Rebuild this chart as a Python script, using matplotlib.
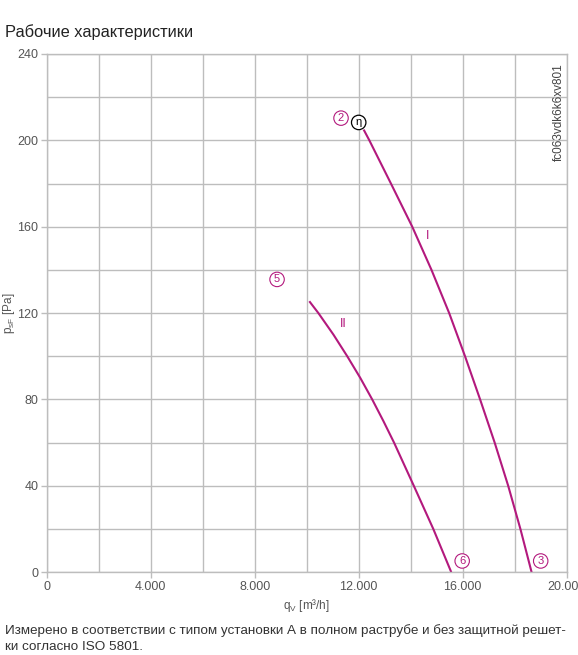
import numpy as np
import matplotlib.pyplot as plt
from matplotlib.ticker import FuncFormatter, MultipleLocator

plt.rcParams['font.family'] = ['Liberation Sans', 'DejaVu Sans']

# Curve I (operating line at full speed)
q_I = [12190, 12410, 13240, 14060, 14800, 15480, 16090, 16670, 17230, 17750, 18220, 18650]
p_I = [205, 200, 180, 160, 140, 120, 100, 80, 60, 40, 20, 0]

# Curve II (reduced speed)
q_II = [10100, 10450, 11030, 11560, 12060, 12520, 12950, 13360, 14120, 14870, 15560]
p_II = [125.5, 120, 110, 100, 90, 80, 70, 60, 40, 20, 0]

# Point markers: label, q, p
markers = [('2', 11320, 210.3), ('5', 8860, 135.6), ('6', 15980, 5.2), ('3', 19000, 5.2)]
curve_labels = [('I', 14630, 155.6), ('II', 11400, 115.0)]
eta_point = (12000, 208.3)

x_ticks = [0, 4000, 8000, 12000, 16000, 20000]
y_ticks = [0, 40, 80, 120, 160, 200, 240]

magenta = '#b3197d'
grid_c = '#bdbdbd'
text_c = '#555555'

fig = plt.figure(figsize=(5.78, 6.55), dpi=100)
ax = fig.add_axes([46.7 / 578, 82.8 / 655, 520 / 578, 518.2 / 655])

ax.plot(q_I, p_I, color=magenta, lw=1.5, solid_capstyle='butt', solid_joinstyle='round')
ax.plot(q_II, p_II, color=magenta, lw=1.5, solid_capstyle='butt', solid_joinstyle='round')

ax.set_xlim(0, 20000)
ax.set_ylim(0, 240)

ax.xaxis.set_minor_locator(MultipleLocator(2000))
ax.yaxis.set_minor_locator(MultipleLocator(20))
ax.set_xticks(x_ticks)
ax.set_yticks(y_ticks)
ax.grid(which='both', color=grid_c, lw=1)
ax.tick_params(which='minor', length=0)
ax.tick_params(which='major', length=4, width=1, color=grid_c, labelcolor=text_c,
               labelsize=9, pad=2)
ax.xaxis.set_major_formatter(FuncFormatter(lambda v, p: '0' if v == 0 else f'{int(v):,}'.replace(',', '.')))
for s in ax.spines.values():
    s.set_color(grid_c)
    s.set_linewidth(1)
ax.set_axisbelow(True)

for lab, q, p in markers:
    ax.text(q, p, lab, color=magenta, fontsize=8, ha='center', va='center',
            bbox=dict(boxstyle='circle,pad=0.2', fc='white', ec=magenta, lw=0.8))
for lab, q, p in curve_labels:
    ax.text(q, p, lab, color=magenta, fontsize=9, ha='center', va='center')
ax.text(eta_point[0], eta_point[1], 'η', color='black', fontsize=8, ha='center', va='center',
        bbox=dict(boxstyle='circle,pad=0.2', fc='white', ec='black', lw=0.9))

ax.text(0.984, 0.983, 'fc063vdk6k6xv801', transform=ax.transAxes, rotation=90,
        ha='center', va='top', fontsize=8.5, color='#444444')

ax.set_xlabel('q$_\\mathregular{V}$ [m³/h]', fontsize=8.5, color=text_c, labelpad=3)
ax.set_ylabel('p$_\\mathregular{sF}$ [Pa]', fontsize=8.5, color=text_c)
ax.yaxis.set_label_coords(-0.058, 0.5)

fig.text(5 / 578, 1 - 32 / 655, 'Рабочие характеристики', fontsize=11.8, color='#222222',
         ha='left', va='center')
fig.text(5 / 578, 1 - 631 / 655,
         'Измерено в соответствии с типом установки А в полном раструбе и без защитной решет-',
         fontsize=9.7, color='#333333', ha='left', va='center')
fig.text(5 / 578, 1 - 647 / 655, 'ки согласно ISO 5801.',
         fontsize=9.7, color='#333333', ha='left', va='center')

fig.savefig('out.png', dpi=100)
